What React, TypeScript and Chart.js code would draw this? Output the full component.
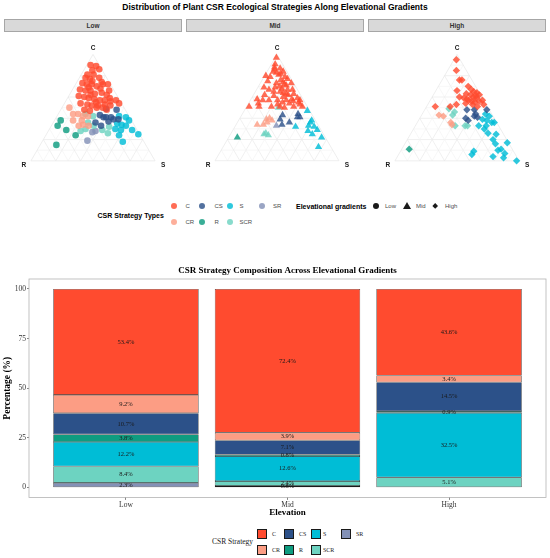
import { useEffect, useRef } from 'react'
import { Chart, registerables } from 'chart.js'
Chart.register(...registerables)

const SANS = '"Liberation Sans", Arial, sans-serif'
const SERIF = '"Liberation Serif", "Times New Roman", serif'

const STRATS = ['C', 'CR', 'CS', 'R', 'S', 'SCR', 'SR']
const COLORS = ['#FF4B2F', '#FC9D84', '#2C5189', '#0E9C80', '#00BDD6', '#6DD3C1', '#8391B7']
const ELEVATIONS = ['Low', 'Mid', 'High']

// share of each strategy (%) at Low / Mid / High
const pctC = [53.4, 72.4, 43.6]
const pctCR = [9.2, 3.9, 3.4]
const pctCS = [10.7, 7.1, 14.5]
const pctR = [3.8, 0.8, 0.9]
const pctS = [12.2, 12.6, 32.5]
const pctSCR = [8.4, 2.4, 5.1]
const pctSR = [2.3, 0.8, 0]
const Y_TICKS = [0, 25, 50, 75, 100]

// ternary points, [C, S] in %, R = 100 - C - S
const lowC = [[90,3],[89,8],[86,12],[85,7],[81,5],[81,10],[78,5],[77,9],[78,16],[73,5],[72,9],[72,13],[70,18],[72,22],[72,26],[67,6],[66,11],[66,15],[63,20],[64,25],[66,30],[61,8],[60,13],[59,17],[58,22],[57,27],[57,31],[59,34],[57,40],[54,44],[54,13],[53,19],[52,23],[52,28],[53,33],[52,38],[48,19],[47,24],[50,28],[48,37],[75,12],[69,12],[62,17],[55,25],[50,33],[68,22],[62,30],[56,36],[74,20]]
const lowCR = [[50,6],[44,12],[44,16],[42,21],[42,25],[38,15],[33,22],[34,25],[33,30],[38,22]]
const lowCS = [[49,36],[48,45],[43,34],[41,38],[41,40],[41,44],[39,47],[39,51],[37,44],[36,34],[33,40]]
const lowR = [[38,5],[33,5],[29,14],[24,24],[15,13]]
const lowS = [[42,50],[41,56],[38,60],[35,52],[34,56],[33,60],[30,53],[29,58],[24,59],[29,67],[25,74],[18,65]]
const lowSCR = [[44,22],[42,29],[36,28],[28,26],[30,29],[33,34],[29,43],[26,49],[32,47]]
const lowSR = [[27,36],[19,36],[28,38]]

const midC = [[97,1],[91,3],[87,9],[84,13],[84,5],[81,11],[79,17],[79,5],[76,15],[77,20],[80,1],[75,5],[73,13],[72,20],[73,25],[67,29],[67,10],[65,15],[65,20],[63,26],[63,32],[59,37],[57,10],[57,15],[57,22],[57,29],[56,35],[57,40],[51,10],[51,2],[51,20],[51,27],[50,31],[51,45],[62,9],[70,17],[67,25],[60,25],[54,33],[51,38],[82,12],[74,18],[71,22],[69,14],[68,20],[64,23],[62,28],[61,17],[58,33],[55,27],[53,24],[55,40],[53,42],[58,5],[54,8],[69,5],[86,5],[88,4],[83,8]]
const midCR = [[39,22],[40,24],[36,24],[34,22],[34,17],[38,27]]
const midCS = [[43,33],[39,33],[44,45],[41,48],[41,46],[34,37],[36,42]]
const midR = [[22,7]]
const midS = [[47,51],[38,59],[33,59],[32,64],[32,49],[28,61],[25,66],[29,68],[22,75],[13,77],[36,59]]
const midSCR = [[50,26],[26,28],[24,31],[25,27]]
const midSR = [[33,33]]

const highC = [[95,2],[85,7],[76,14],[76,16],[66,17],[70,24],[67,28],[63,26],[65,31],[62,37],[59,26],[57,31],[59,36],[57,42],[53,45],[53,36],[51,41],[53,23],[51,7],[60,22],[54,30],[60,33],[56,40],[51,19],[62,30],[58,29],[64,34],[56,34],[61,35],[55,37]]
const highCR = [[43,14],[42,18],[36,27],[34,29]]
const highCS = [[48,34],[48,40],[48,50],[40,37],[42,43],[41,46],[44,43],[38,40]]
const highR = [[11,6]]
const highS = [[44,51],[42,55],[39,51],[38,55],[36,60],[36,62],[33,51],[33,57],[30,57],[26,62],[25,69],[20,69],[16,73],[17,82],[11,80],[7,85],[4,77],[3,86],[9,59],[6,59],[0,98],[10,78]]
const highSCR = [[49,19],[46,25],[43,25],[33,32],[33,40],[33,42]]
const highSR: number[][] = []

const H = Math.sqrt(3) / 2
const PX = 130 // px per ternary unit

const ternaryGrid = {
  id: 'ternaryGrid',
  beforeDatasetsDraw(chart: any) {
    const { ctx, scales: { x, y } } = chart
    const tp = (c: number, s: number) => [x.getPixelForValue(s + c / 2), y.getPixelForValue(c * H)]
    const line = (a: number[], b: number[]) => { ctx.beginPath(); ctx.moveTo(a[0], a[1]); ctx.lineTo(b[0], b[1]); ctx.stroke() }
    ctx.save()
    for (let k = 1; k < 10; k++) {
      const t = k / 10
      ctx.strokeStyle = k % 2 ? '#F3F3F3' : '#EAEAEA'
      ctx.lineWidth = 0.7
      line(tp(t, 0), tp(t, 1 - t))
      line(tp(0, t), tp(1 - t, t))
      line(tp(0, 1 - t), tp(1 - t, 0))
    }
    ctx.strokeStyle = '#E6E6E6'
    line(tp(0, 0), tp(0, 1)); line(tp(0, 1), tp(1, 0)); line(tp(1, 0), tp(0, 0))
    ctx.fillStyle = '#1A1A1A'
    ctx.font = `bold 6.5px ${SANS}`
    ctx.textAlign = 'center'
    ctx.textBaseline = 'middle'
    const [cx, cy] = tp(1, 0)
    const [rx, ry] = tp(0, 0)
    const [sx, sy] = tp(0, 1)
    ctx.fillText('C', cx, cy - 6.5)
    ctx.fillText('R', rx - 7, ry + 4)
    ctx.fillText('S', sx + 8, sy + 4)
    ctx.restore()
  },
}

function Ternary({ sets, shape, left, radius }: { sets: number[][][]; shape: string; left: number; radius: number }) {
  const ref = useRef<HTMLCanvasElement>(null)
  useEffect(() => {
    if (!ref.current) return
    const ch = new Chart(ref.current, {
      type: 'scatter',
      data: {
        datasets: STRATS.map((s, i) => ({
          label: s,
          data: sets[i].map(([c, sv]) => ({ x: sv / 100 + c / 200, y: (c / 100) * H })),
          pointStyle: shape as any,
          pointRadius: radius,
          pointBackgroundColor: COLORS[i] + 'D0',
          pointBorderWidth: 0,
        })),
      },
      options: {
        animation: false, responsive: true, maintainAspectRatio: false, events: [],
        layout: { padding: 0 },
        plugins: { legend: { display: false }, tooltip: { enabled: false } },
        scales: {
          x: { type: 'linear', display: false, min: -24 / PX, max: 1 + 24 / PX },
          y: { type: 'linear', display: false, min: -16 / PX, max: 131 / PX },
        },
      },
      plugins: [ternaryGrid],
    })
    return () => ch.destroy()
  }, [])
  return <div style={{ position: 'absolute', left, top: 33, width: 178, height: 147 }}><canvas ref={ref} /></div>
}

const barExtras = {
  id: 'barExtras',
  afterDatasetsDraw(chart: any) {
    const { ctx, chartArea: a } = chart
    ctx.save()
    ctx.fillStyle = '#1A1A1A'
    ctx.font = `6.5px ${SERIF}`
    ctx.textAlign = 'center'
    ctx.textBaseline = 'middle'
    chart.data.datasets.forEach((ds: any, di: number) => {
      chart.getDatasetMeta(di).data.forEach((el: any, j: number) => {
        const v = ds.data[j].y
        if (!v) return
        const { x, y, base } = el.getProps(['x', 'y', 'base'], true)
        ctx.fillText(v.toFixed(1) + '%', x, (y + base) / 2)
      })
    })
    ctx.strokeStyle = '#B3B3B3'
    ctx.lineWidth = 0.8
    ctx.strokeRect(a.left, a.top, a.right - a.left, a.bottom - a.top)
    ctx.fillStyle = '#000'
    ctx.font = `bold 9px ${SERIF}`
    ctx.fillText('CSR Strategy Composition Across Elevational Gradients', (a.left + a.right) / 2, 13)
    ctx.restore()
  },
}

function BarChart() {
  const ref = useRef<HTMLCanvasElement>(null)
  useEffect(() => {
    if (!ref.current) return
    const series = [pctC, pctCR, pctCS, pctR, pctS, pctSCR, pctSR]
    const order = [6, 5, 4, 3, 2, 1, 0] // SR at the bottom, C on top
    const tickFont = { family: SERIF, size: 7.5 }
    const ch = new Chart(ref.current, {
      type: 'bar',
      data: {
        datasets: order.map(i => ({
          label: STRATS[i],
          data: series[i].map((v, j) => ({ x: j + 1, y: v > 0 ? v : null })),
          backgroundColor: COLORS[i],
          borderColor: '#1A1A1A',
          borderWidth: 0.6,
          borderSkipped: false,
          categoryPercentage: 1,
          barPercentage: 0.9,
        })),
      },
      options: {
        animation: false, responsive: true, maintainAspectRatio: false, events: [],
        layout: { padding: { top: 21, right: 4, left: 0, bottom: 0 } },
        plugins: { legend: { display: false }, tooltip: { enabled: false } },
        scales: {
          x: {
            type: 'linear', stacked: true, min: 0.4, max: 3.6, offset: false,
            afterBuildTicks: (s: any) => { s.ticks = ELEVATIONS.map((_, i) => ({ value: i + 1 })) },
            afterFit: (s: any) => { s.height = 25.6 },
            ticks: { callback: (v: any) => ELEVATIONS[Math.round(v) - 1], font: tickFont, color: '#333', padding: 1, maxRotation: 0 },
            grid: { offset: false, drawOnChartArea: false, drawTicks: true, tickLength: 2.5, color: '#333', lineWidth: 0.6 },
            border: { display: false },
            title: { display: true, text: 'Elevation', color: '#000', font: { family: SERIF, size: 9, weight: 'bold' }, padding: { top: 0, bottom: 5 } },
          },
          y: {
            type: 'linear', stacked: true, min: -5, max: 105,
            afterBuildTicks: (s: any) => { s.ticks = Y_TICKS.map(v => ({ value: v })) },
            afterFit: (s: any) => { s.width = 29 },
            ticks: { font: tickFont, color: '#333', padding: 1 },
            grid: { drawOnChartArea: false, drawTicks: true, tickLength: 2, color: '#333', lineWidth: 0.6 },
            border: { display: false },
            title: { display: true, text: 'Percentage (%)', color: '#000', font: { family: SERIF, size: 9.5, weight: 'bold' }, padding: { top: 2, bottom: 0 } },
          },
        },
      },
      plugins: [barExtras],
    })
    return () => ch.destroy()
  }, [])
  return <div style={{ position: 'absolute', left: 0, top: 258, width: 550, height: 265 }}><canvas ref={ref} /></div>
}

const at = (x: number, y: number, extra: any = {}) => ({
  position: 'absolute' as const, left: x, top: y, transform: 'translateY(-50%)', whiteSpace: 'nowrap' as const, lineHeight: 1, ...extra,
})

// legend slots (column-major, two rows)
const TOP_DOT_X = [174, 202, 230, 262]
const TOP_TXT_X = [185.5, 214.5, 239.5, 273]
const BOT_KEY_X = [257, 284, 311, 341]
const BOT_TXT_X = [272, 299, 323, 356]

export default function App() {
  const lowSets = [lowC, lowCR, lowCS, lowR, lowS, lowSCR, lowSR]
  const midSets = [midC, midCR, midCS, midR, midS, midSCR, midSR]
  const highSets = [highC, highCR, highCS, highR, highS, highSCR, highSR]
  const strips = [[4, 'Low'], [186, 'Mid'], [368, 'High']] as const
  const legendText = { fontFamily: SANS, fontSize: 6, color: '#4D4D4D' }
  return (
    <div style={{ position: 'absolute', left: 0, top: 0, width: 550, height: 558, background: '#fff', overflow: 'hidden' }}>
      <div style={{ position: 'absolute', left: 0, top: 2, width: 550, textAlign: 'center', fontFamily: SANS, fontWeight: 'bold', fontSize: 8.5, lineHeight: '11px', color: '#000' }}>
        Distribution of Plant CSR Ecological Strategies Along Elevational Gradients
      </div>
      {strips.map(([x, l]) => (
        <div key={l} style={{ position: 'absolute', left: x, top: 19, width: 178, height: 13, boxSizing: 'border-box', background: '#D9D9D9', border: '1px solid #A6A6A6', textAlign: 'center', fontFamily: SANS, fontWeight: 'bold', fontSize: 6.5, lineHeight: '11px', color: '#333' }}>{l}</div>
      ))}
      <Ternary sets={lowSets} shape="circle" left={4} radius={3.3} />
      <Ternary sets={midSets} shape="triangle" left={188} radius={4.2} />
      <Ternary sets={highSets} shape="rectRot" left={368} radius={3.7} />

      <div style={at(97.5, 215, { fontFamily: SANS, fontWeight: 'bold', fontSize: 7, color: '#000' })}>CSR Strategy Types</div>
      {STRATS.map((s, i) => {
        const col = Math.floor(i / 2), row = i % 2, y = row ? 222 : 206
        return (
          <div key={s}>
            <div style={{ position: 'absolute', left: TOP_DOT_X[col] - 3, top: y - 3, width: 6, height: 6, borderRadius: '50%', background: COLORS[i] + 'D0' }} />
            <div style={at(TOP_TXT_X[col], y, legendText)}>{s}</div>
          </div>
        )
      })}
      <div style={at(296, 206, { fontFamily: SANS, fontWeight: 'bold', fontSize: 7, color: '#000' })}>Elevational gradients</div>
      <div style={{ position: 'absolute', left: 373, top: 203, width: 6, height: 6, borderRadius: '50%', background: '#1A1A1A' }} />
      <div style={at(385, 206, legendText)}>Low</div>
      <div style={{ position: 'absolute', left: 403, top: 202, width: 0, height: 0, borderLeft: '4px solid transparent', borderRight: '4px solid transparent', borderBottom: '7px solid #1A1A1A' }} />
      <div style={at(416, 206, legendText)}>Mid</div>
      <div style={{ position: 'absolute', left: 432.8, top: 203.8, width: 4.4, height: 4.4, transform: 'rotate(45deg)', background: '#1A1A1A' }} />
      <div style={at(445, 206, legendText)}>High</div>

      <BarChart />

      <div style={at(212, 542, { fontFamily: SERIF, fontSize: 7.5, color: '#1A1A1A' })}>CSR Strategy</div>
      {STRATS.map((s, i) => {
        const col = Math.floor(i / 2), row = i % 2, top = row ? 545 : 529
        return (
          <div key={s}>
            <div style={{ position: 'absolute', left: BOT_KEY_X[col], top, width: 10, height: 10, boxSizing: 'border-box', background: COLORS[i], border: '0.6px solid #1A1A1A' }} />
            <div style={at(BOT_TXT_X[col], top + 5, { fontFamily: SERIF, fontSize: 6, color: '#1A1A1A' })}>{s}</div>
          </div>
        )
      })}
    </div>
  )
}
